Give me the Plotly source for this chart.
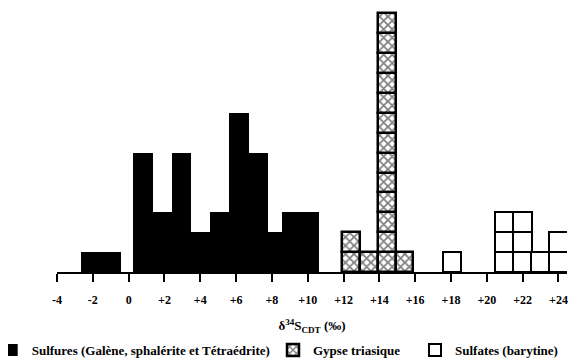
import plotly.graph_objects as go

# ---- data ----
tick_vals = [-4, -2, 0, 2, 4, 6, 8, 10, 12, 14, 16, 18, 20, 22, 24]
tick_text = ["-4", "-2", "0", "+2", "+4", "+6", "+8", "+10", "+12", "+14", "+16", "+18", "+20", "+22", "+24"]

sulfure_x = [-2.1, -1.0, 0.8, 1.9, 2.95, 4.05, 5.1, 6.15, 7.25, 8.2, 9.1, 10.1]
sulfure_n = [1, 1, 6, 3, 6, 2, 3, 8, 6, 2, 3, 3]

gypse_x = [12.4, 13.4, 14.4, 15.4]
gypse_n = [2, 1, 13, 1]

sulfate_x = [18.05, 21, 22, 23, 24]
sulfate_n = [1, 3, 3, 1, 2]

FONT = "Liberation Serif"
# the page body adds an 8px margin, so the figure is drawn 8px smaller
W, H = 570, 355
L, R, T, B = 49, 11, 0, 91
PX_PER_UNIT = 17.91
PX_PER_COUNT = 19.9
PLOT_W = W - L - R
PLOT_H = H - T - B


def cells(xs, ns):
    cx, cb = [], []
    for x, n in zip(xs, ns):
        for k in range(n):
            cx.append(x)
            cb.append(k)
    return cx, cb


fig = go.Figure()

fig.add_trace(go.Bar(
    x=sulfure_x, y=sulfure_n, width=1.1,
    marker=dict(color="black", line=dict(width=0)),
    name="Sulfures (Galène, sphalérite et Tétraédrite)",
    legend="legend",
))

gx, gb = cells(gypse_x, gypse_n)
fig.add_trace(go.Bar(
    x=gx, y=[1] * len(gx), base=gb, width=1.0,
    marker=dict(color="white", line=dict(color="black", width=2.5),
                pattern=dict(shape="x", fgcolor="black", bgcolor="white", size=6, solidity=0.5)),
    name="Gypse triasique",
    legend="legend2",
))

sx, sb = cells(sulfate_x, sulfate_n)
fig.add_trace(go.Bar(
    x=sx, y=[1] * len(sx), base=sb, width=1.05,
    marker=dict(color="white", line=dict(color="black", width=2)),
    name="Sulfates (barytine)",
    legend="legend3",
))


def leg_x(text_start_window):
    fig_x = text_start_window - 8 - 40
    return (fig_x - L) / PLOT_W


leg_common = dict(orientation="h", xref="paper", yref="container",
                  yanchor="middle", xanchor="left", y=(H - 342) / H,
                  font=dict(family=FONT, size=13, color="black", weight="bold"),
                  bgcolor="rgba(0,0,0,0)", borderwidth=0)

fig.update_layout(
    width=W, height=H,
    margin=dict(l=L, r=R, t=T, b=B, autoexpand=False),
    paper_bgcolor="white", plot_bgcolor="white",
    barmode="overlay", bargap=0,
    showlegend=True,
    legend=dict(x=leg_x(31.7), **leg_common),
    legend2=dict(x=leg_x(313), **leg_common),
    legend3=dict(x=leg_x(455), **leg_common),
    xaxis=dict(
        range=[-4, -4 + PLOT_W / PX_PER_UNIT],
        showgrid=False, zeroline=False,
        showline=True, linecolor="black", linewidth=1.5,
        ticks="outside", ticklen=8, tickwidth=1.5, tickcolor="black",
        tickvals=tick_vals, ticktext=tick_text,
        tickfont=dict(family=FONT, size=12, color="black", weight="bold"),
        ticklabelstandoff=8,
        title=dict(text="δ<sup>34</sup>S<sub>CDT</sub> (‰)",
                   font=dict(family=FONT, size=13, color="black", weight="bold"), standoff=17),
    ),
    yaxis=dict(visible=False, range=[0, PLOT_H / PX_PER_COUNT]),
)

fig.write_html("out.html")
